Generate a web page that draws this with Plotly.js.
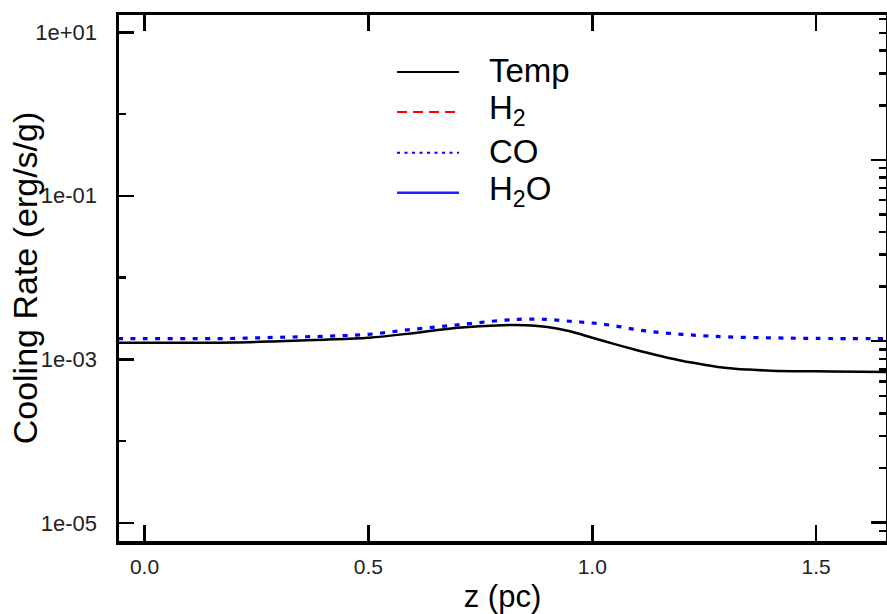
<!DOCTYPE html>
<html>
<head>
<meta charset="utf-8">
<script src="https://cdn.plot.ly/plotly-3.0.1.min.js"></script>
<style>html,body{margin:0;padding:0;background:#fff;}#chart{width:887px;height:614px;}</style>
</head>
<body>
<div id="chart"></div>
<script>
// z (pc) sample positions
const zTemp = [-0.06, 0.0, 0.1, 0.2, 0.3, 0.4, 0.5, 0.6, 0.7, 0.8, 0.85, 0.9, 0.95, 1.0, 1.05, 1.1, 1.15, 1.2, 1.25, 1.3, 1.35, 1.4, 1.5, 1.6, 1.66];
// Temperature (right axis, K)
const tempVals = [98, 98, 98, 98.4, 100, 101.9, 104.5, 110.7, 118.7, 122.5, 122.5, 119.9, 113.5, 104.5, 96.3, 89.2, 83.2, 78, 74.2, 71.2, 69.7, 68.8, 68.2, 67.8, 67.7];

const zCO = [-0.06, 0.0, 0.1, 0.2, 0.3, 0.4, 0.5, 0.6, 0.7, 0.8, 0.85, 0.9, 0.95, 1.0, 1.05, 1.1, 1.15, 1.2, 1.25, 1.3, 1.4, 1.5, 1.66];
// CO cooling rate (erg/s/g)
const coVals = [1.79e-3, 1.79e-3, 1.79e-3, 1.80e-3, 1.86e-3, 1.91e-3, 2.02e-3, 2.33e-3, 2.64e-3, 3.0e-3, 3.10e-3, 3.07e-3, 2.92e-3, 2.78e-3, 2.57e-3, 2.30e-3, 2.13e-3, 2.02e-3, 1.94e-3, 1.88e-3, 1.83e-3, 1.80e-3, 1.79e-3];

// H2 and H2O: not visible within the plotted range
const zH2 = [], h2Vals = [];
const zH2O = [], h2oVals = [];

const seriesNames = ['Temp', 'H<sub>2</sub>', 'CO', 'H<sub>2</sub>O'];

const yTickVals = [1e-5, 1e-3, 1e-1, 1e1];
const yTickText = ['1e-05', '1e-03', '1e-01', '1e+01'];
const yMinorVals = [1e-4, 1e-2, 1e0];
const xTickVals = [0, 0.5, 1.0, 1.5];
const xTickText = ['0.0', '0.5', '1.0', '1.5'];

const y2Major = [10, 100, 1000];
const y2Minor = [];
[1, 10, 100, 1000].forEach(d => { for (let n = 2; n <= 9; n++) y2Minor.push(n * d); });

const FONT = '"Liberation Sans", Arial, Helvetica, sans-serif';

const traces = [
  {x: zTemp, y: tempVals, name: 'Temp', yaxis: 'y2', mode: 'lines', line: {color: '#000000', width: 2.5, shape: 'spline'}, showlegend: false},
  {x: zH2, y: h2Vals, name: 'H2', mode: 'lines', line: {color: '#ff0000', width: 2.5, dash: 'dash'}, showlegend: false},
  {x: zCO, y: coVals, name: 'CO', mode: 'lines', line: {color: '#0000ff', width: 3.2, dash: '5px,7.5px', shape: 'spline'}, showlegend: false},
  {x: zH2O, y: h2oVals, name: 'H2O', mode: 'lines', line: {color: '#0000ff', width: 2.5}, showlegend: false}
];

// custom legend (long line samples as in the reference)
const legStyles = [
  {color: '#000000', width: 2, dash: 'solid'},
  {color: '#ff0000', width: 2, dash: '10px,6px'},
  {color: '#0000ff', width: 2, dash: '3px,4.5px'},
  {color: '#2222ff', width: 2.5, dash: 'solid'}
];
const legY = [0.8917, 0.8157, 0.7379, 0.6619];
const shapes = [];
const annotations = [];
seriesNames.forEach((nm, i) => {
  shapes.push({type: 'line', xref: 'paper', yref: 'paper', x0: 0.3625, x1: 0.4433, y0: legY[i], y1: legY[i], line: legStyles[i]});
  annotations.push({xref: 'paper', yref: 'paper', x: 0.4798, y: legY[i] + 0.003, xanchor: 'left', yanchor: 'middle', text: nm, showarrow: false, font: {family: FONT, size: 33, color: '#000'}});
});
// y-axis title (placed independently of the tick labels, as in the reference)
annotations.push({xref: 'paper', yref: 'paper', x: -0.1225, y: 0.4995, xanchor: 'center', yanchor: 'middle', textangle: -90, text: 'Cooling Rate (erg/s/g)', showarrow: false, font: {family: FONT, size: 34, color: '#000'}});

const layout = {
  width: 887, height: 614,
  margin: {l: 119, r: 1, t: 15, b: 72.5, pad: 0},
  paper_bgcolor: '#ffffff', plot_bgcolor: '#ffffff',
  font: {family: FONT, color: '#000'},
  showlegend: false,
  xaxis: {
    range: [-0.057, 1.656], showgrid: false, zeroline: false,
    showline: true, linecolor: '#000', linewidth: 3.5, mirror: 'ticks',
    ticks: 'inside', ticklen: 16, tickwidth: 2.5, tickcolor: '#000',
    tickmode: 'array', tickvals: xTickVals, ticktext: xTickText,
    ticklabelstandoff: 4,
    tickfont: {family: FONT, size: 21, color: '#222'},
    title: {text: 'z (pc)', font: {family: FONT, size: 31, color: '#000'}, standoff: 12}
  },
  yaxis: {
    type: 'log', range: [-5.2224, 1.2114], showgrid: false, zeroline: false,
    showline: true, linecolor: '#000', linewidth: 3.5, mirror: false,
    ticks: 'inside', ticklen: 15, tickwidth: 2.5, tickcolor: '#000',
    tickmode: 'array', tickvals: yTickVals, ticktext: yTickText,
    ticklabelstandoff: 14,
    minor: {tickmode: 'array', tickvals: yMinorVals, ticks: 'inside', ticklen: 7, tickwidth: 2.5, tickcolor: '#000', showgrid: false},
    tickfont: {family: FONT, size: 22, color: '#222'}
  },
  yaxis2: {
    type: 'log', range: [0.898, 3.799], overlaying: 'y', side: 'right', showgrid: false, zeroline: false,
    showline: true, linecolor: '#000', linewidth: 3,
    ticks: 'inside', ticklen: 15, tickwidth: 2.5, tickcolor: '#000',
    tickmode: 'array', tickvals: y2Major, showticklabels: false,
    minor: {tickmode: 'array', tickvals: y2Minor, ticks: 'inside', ticklen: 7, tickwidth: 2.5, tickcolor: '#000', showgrid: false}
  },
  shapes: shapes,
  annotations: annotations
};

Plotly.newPlot('chart', traces, layout, {displayModeBar: false, staticPlot: true});
</script>
</body>
</html>
